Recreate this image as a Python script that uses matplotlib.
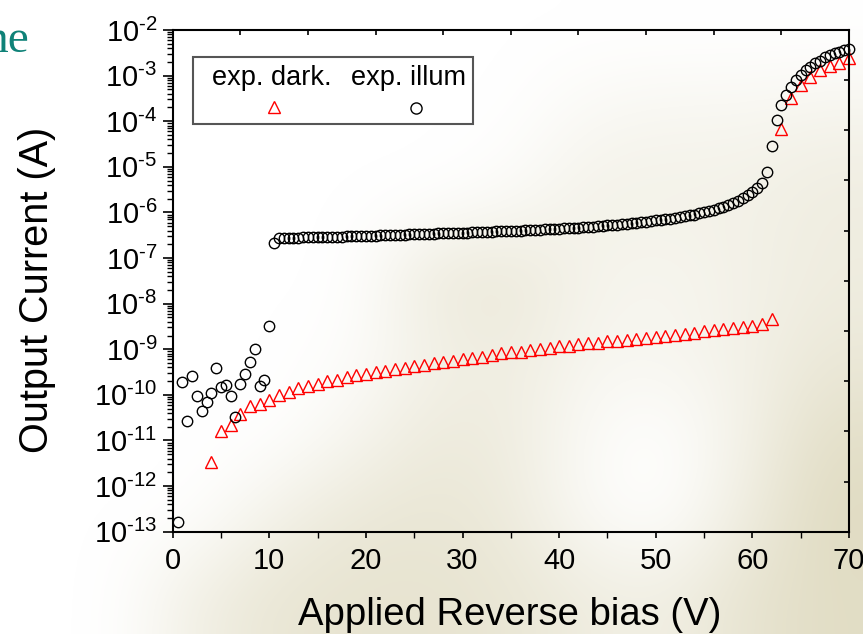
import matplotlib
matplotlib.use('Agg')
import matplotlib.pyplot as plt
import numpy as np
from matplotlib.colors import LinearSegmentedColormap
from matplotlib.patches import Rectangle
from matplotlib.ticker import (LogLocator, NullFormatter, MultipleLocator,
                               FuncFormatter, NullLocator)

plt.rcParams['font.family'] = ['Liberation Sans', 'DejaVu Sans']
plt.rcParams['mathtext.fontset'] = 'custom'
plt.rcParams['mathtext.rm'] = 'Liberation Sans'
plt.rcParams['mathtext.it'] = 'Liberation Sans:italic'
plt.rcParams['mathtext.bf'] = 'Liberation Sans:bold'

# dark current, 1 V steps from 4 V to 70 V
dark_v = np.arange(4, 71, 1)
dark_i = [3.3e-12, 1.6e-11, 2.2e-11, 3.9e-11, 5.6e-11, 6.4e-11, 7.8e-11, 1.0e-10, 1.15e-10, 1.44e-10,
          1.6e-10, 1.7e-10, 2.0e-10, 2.1e-10, 2.5e-10, 2.7e-10, 2.9e-10, 3.2e-10, 3.3e-10, 3.7e-10,
          3.9e-10, 4.2e-10, 4.6e-10, 4.9e-10, 5.2e-10, 5.6e-10, 6.0e-10, 6.4e-10, 6.8e-10, 7.5e-10,
          8.2e-10, 8.5e-10, 8.9e-10, 9.6e-10, 1.0e-9, 1.07e-9, 1.15e-9, 1.2e-9, 1.28e-9, 1.35e-9,
          1.4e-9, 1.48e-9, 1.55e-9, 1.62e-9, 1.7e-9, 1.75e-9, 1.85e-9, 1.95e-9, 2.05e-9, 2.15e-9,
          2.3e-9, 2.45e-9, 2.6e-9, 2.75e-9, 2.95e-9, 3.1e-9, 3.3e-9, 3.6e-9, 4.5e-9, 6.6e-5,
          3.3e-4, 6.1e-4, 9.1e-4, 1.3e-3, 1.6e-3, 1.9e-3, 2.4e-3]

# illuminated current, 0.5 V steps from 0.5 V to 70 V
illum_v = np.arange(0.5, 70.01, 0.5)
illum_low = [1.6e-13, 1.9e-10, 2.7e-11, 2.6e-10, 9.3e-11, 4.4e-11, 6.8e-11, 1.1e-10, 3.9e-10, 1.45e-10,
             1.65e-10, 9.5e-11, 3.3e-11, 1.7e-10, 2.9e-10, 5.2e-10, 1.0e-9, 1.55e-10, 2.1e-10, 3.3e-9]
# 10.5 V .. 61.5 V, in units of 1e-7 A
illum_mid = [2.1,
             2.75, 2.75, 2.8, 2.8, 2.8, 2.85, 2.85, 2.85, 2.9, 2.9, 2.9, 2.95, 2.95, 2.95, 3.0, 3.0, 3.0, 3.05, 3.05,
             3.1, 3.1, 3.15, 3.15, 3.2, 3.2, 3.25, 3.25, 3.3, 3.3, 3.35, 3.35, 3.4, 3.4, 3.45, 3.45, 3.5, 3.5, 3.55, 3.6,
             3.6, 3.65, 3.7, 3.7, 3.75, 3.8, 3.85, 3.85, 3.9, 3.95, 4.0, 4.0, 4.05, 4.1, 4.15, 4.2, 4.25, 4.3, 4.35, 4.4,
             4.45, 4.5, 4.6, 4.65, 4.75, 4.8, 4.9, 5.0, 5.1, 5.2, 5.3, 5.4, 5.5, 5.65, 5.8, 5.95, 6.1, 6.3, 6.5, 6.7,
             6.9, 7.1, 7.35, 7.6, 7.9, 8.2, 8.6, 9.0, 9.5, 10.0, 10.6, 11.3, 12.2, 13.2, 14.5, 16.0, 18.0, 20.5, 24, 28,
             34, 45, 78]
illum_high = [2.9e-5, 1.07e-4, 2.3e-4, 3.8e-4, 5.5e-4, 7.9e-4, 1.03e-3, 1.3e-3, 1.58e-3, 1.9e-3,
              2.1e-3, 2.5e-3, 2.8e-3, 3.1e-3, 3.3e-3, 3.6e-3, 3.8e-3]
illum_i = np.concatenate([illum_low, np.array(illum_mid) * 1e-7, illum_high])

legend_labels = ['exp. dark.', 'exp. illum']

# faded slide background (beige wash), rows top->bottom
bg_grid = [[0, 0, 0, 0, 0, 0, 0, 0, 0, 0, 0],
           [0, 0, 0, 0, 0, 0, 0, 0.15, 0.2, 0.2, 0.25],
           [0, 0, 0, 0, 0, 0, 0.1, 0.3, 0.3, 0.3, 0.4],
           [0, 0, 0, 0, 0, 0.45, 0.5, 0.25, 0.2, 0.3, 0.4],
           [0, 0, 0, 0, 0.05, 0.3, 0.4, 0.2, 0.2, 0.3, 0.5],
           [0, 0, 0, 0, 0.2, 0.45, 0.4, 0.1, 0.0, 0.3, 0.7],
           [0, 0, 0, 0.3, 0.5, 0.55, 0.45, 0.1, 0.0, 0.4, 0.8],
           [0, 0, 0.35, 0.55, 0.6, 0.6, 0.55, 0.4, 0.35, 0.6, 0.75]]


def sci_label(val, pos):
    e = int(round(np.log10(val)))
    return r'$\mathdefault{10^{\text{-}%d}}$' % (-e)


fig = plt.figure(figsize=(8.63, 6.34), dpi=100)

bgax = fig.add_axes([0, 0, 1, 1], zorder=0)
beige = LinearSegmentedColormap.from_list('beige', ['#ffffff', '#d8d2b2'])
bgax.imshow(bg_grid, cmap=beige, vmin=0, vmax=1, interpolation='bicubic',
            aspect='auto', extent=[0, 1, 0, 1])
bgax.axis('off')

rect = [0.2001, 0.1614, 0.7837, 0.7913]
ax = fig.add_axes(rect, zorder=2)
ax.set_facecolor('none')

ax.plot(dark_v, dark_i, linestyle='none', marker='^', ms=8.5, mfc='none',
        mec='#ff0000', mew=1.0, clip_on=False)
ax.plot(illum_v, illum_i, linestyle='none', marker='o', ms=7.5, mfc='none',
        mec='black', mew=1.0, clip_on=False)

ax.set_yscale('log')
ax.set_xlim(0, 70)
ax.set_ylim(1e-13, 1e-2)
ax.xaxis.set_major_locator(MultipleLocator(10))
ax.xaxis.set_minor_locator(MultipleLocator(5))
ax.yaxis.set_major_locator(LogLocator(base=10, subs=(1.0,), numticks=30))
ax.yaxis.set_major_formatter(FuncFormatter(sci_label))
ax.yaxis.set_minor_locator(LogLocator(base=10, subs=np.arange(2, 10), numticks=30))
ax.yaxis.set_minor_formatter(NullFormatter())

for s in ax.spines.values():
    s.set_linewidth(1.5)
ax.tick_params(axis='y', which='major', direction='out', length=7, width=1.2,
               labelsize=21, pad=4)
ax.tick_params(axis='y', which='minor', direction='out', length=4, width=1.0)
ax.tick_params(axis='x', which='major', direction='out', length=4, width=1.2,
               labelsize=21, pad=7)
ax.tick_params(axis='x', which='minor', direction='out', length=4, width=1.0)

# evenly spaced inward ticks on the top and right frame
frame = fig.add_axes(rect, zorder=3)
frame.set_facecolor('none')
frame.set_xlim(0, 10)
frame.set_ylim(0, 10)
frame.xaxis.set_major_locator(MultipleLocator(1))
frame.yaxis.set_major_locator(MultipleLocator(1))
frame.tick_params(axis='both', direction='in', length=3.5, width=1.2,
                  top=True, right=True, bottom=False, left=False,
                  labelbottom=False, labelleft=False)
for s in frame.spines.values():
    s.set_visible(False)

# legend: labels on top row, markers below
ax.add_patch(Rectangle((0.030, 0.8126), 0.414, 0.1342, transform=ax.transAxes,
                       facecolor='white', edgecolor='#555555', lw=1.5, zorder=5))
ax.text(0.0577, 0.890, legend_labels[0], transform=ax.transAxes, fontsize=19.5,
        va='baseline', ha='left', zorder=6)
ax.text(0.263, 0.890, legend_labels[1], transform=ax.transAxes, fontsize=19.5,
        va='baseline', ha='left', zorder=6)
ax.plot([0.150], [0.846], transform=ax.transAxes, marker='^', ms=8.5, mfc='none',
        mec='#ff0000', mew=1.0, zorder=6)
ax.plot([0.360], [0.844], transform=ax.transAxes, marker='o', ms=8, mfc='none',
        mec='black', mew=1.0, zorder=6)

fig.text(0.591, 0.0142, 'Applied Reverse bias (V)', ha='center', va='baseline', fontsize=27.5)
fig.text(0.043, 0.5426, 'Output Current (A)', ha='center', va='center',
         rotation=90, fontsize=28.5)
fig.text(30 / 863, 1 - 52 / 634, 'ne', ha='right', va='baseline', fontsize=34,
         family='Liberation Serif', color='#0f8278')

fig.savefig('out.png', dpi=100)
